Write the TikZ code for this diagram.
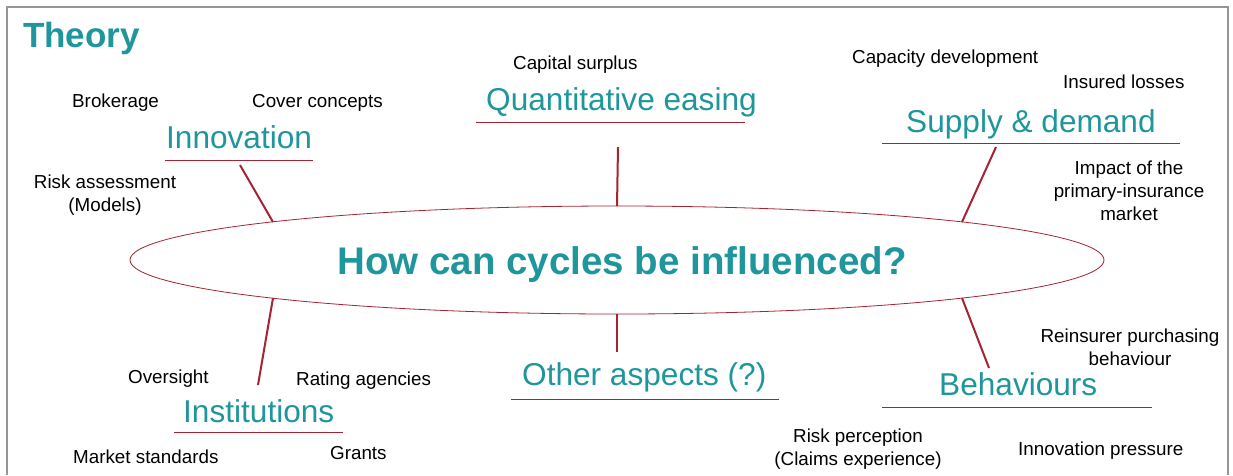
\documentclass[tikz,border=0pt]{standalone}
\usepackage{fontspec}
\setmainfont{Liberation Sans}
\usetikzlibrary{shapes.geometric,calc}

\definecolor{sigteal}{RGB}{30,150,155}
\definecolor{sigred}{RGB}{165,35,50}
\definecolor{framegrey}{RGB}{150,150,150}

\tikzset{
  topic/.style={anchor=base west, text=sigteal, font=\fontsize{31.6}{36}\selectfont, inner sep=0pt},
  item/.style={font=\fontsize{18.8}{23}\selectfont, inner sep=0pt, align=center},
  link/.style={draw=sigred, line width=2pt},
  rule/.style={draw=sigred, line width=0.9pt},
}

\begin{document}
\begin{tikzpicture}[x=1pt,y=-1pt]
\useasboundingbox (0,0) rectangle (1233,475);
\draw[framegrey, line width=1.2pt] (7,475) -- (7,7) -- (1228,7) -- (1228,475);

\node[anchor=base west, text=sigteal, font=\bfseries\fontsize{35}{40}\selectfont, inner sep=0pt] (title) at (23,47) {Theory};

% centre
\node[ellipse, draw=sigred, line width=0.8pt, minimum width=974pt, minimum height=108pt, inner sep=0pt, outer sep=0pt] (hub) at (617,260) {};
\node[anchor=base, text=sigteal, font=\bfseries\fontsize{38.5}{44}\selectfont, inner sep=0pt] (question) at (622,274) {How can cycles be influenced?};

% topics
\node[topic] (inno) at (166,148) {Innovation};
\node[topic] (qe) at (486,110) {Quantitative easing};
\node[topic] (supply) at (906,132) {Supply \& demand};
\node[topic] (inst) at (183,422) {Institutions};
\node[topic] (other) at (522,385) {Other aspects (?)};
\node[topic] (behav) at (939,395) {Behaviours};

\draw[rule] (165,160) -- (313,160);
\draw[rule] (476,122) -- (745,122);
\draw[rule] (882,143) -- (1180,143);
\draw[rule] (174,432) -- (343,432);
\draw[rule] (511,399) -- (779,399);
\draw[rule] (882,407) -- (1152,407);

\coordinate (innoFoot) at (240,165);
\coordinate (qeFoot) at (618,147);
\coordinate (supplyFoot) at (996,147);
\coordinate (instFoot) at (258,385);
\coordinate (otherFoot) at (617,352);
\coordinate (behavFoot) at (989,368);

\draw[link] (innoFoot) -- ($(hub.center)+(-344,-38)$);
\draw[link] (qeFoot) -- (hub.north);
\draw[link] (supplyFoot) -- ($(hub.center)+(345,-38)$);
\draw[link] (instFoot) -- ($(hub.center)+(-344,38)$);
\draw[link] (otherFoot) -- (hub.south);
\draw[link] (behavFoot) -- ($(hub.center)+(345,38)$);

% items
\node[item, anchor=base west] (capital) at (513,69) {Capital surplus};
\node[item, anchor=base west] (broker) at (72,107) {Brokerage};
\node[item, anchor=base west] (cover) at (252,107) {Cover concepts};
\node[item] (riskass) at (105,195) {Risk assessment\\(Models)};
\node[item, anchor=base west] (capacity) at (852,63) {Capacity development};
\node[item, anchor=base west] (losses) at (1063,88) {Insured losses};
\node[item] (impact) at (1129,191) {Impact of the\\primary-insurance\\market};
\node[item] (reins) at (1130,347.5) {Reinsurer purchasing\\behaviour};
\node[item, anchor=base west] (oversight) at (128,383) {Oversight};
\node[item, anchor=base west] (rating) at (296,385) {Rating agencies};
\node[item, anchor=base west] (market) at (73,463) {Market standards};
\node[item, anchor=base west] (grants) at (330,459) {Grants};
\node[item] (riskper) at (858,449.5) {Risk perception\\(Claims experience)};
\node[item, anchor=base west] (pressure) at (1018,455) {Innovation pressure};
\end{tikzpicture}
\end{document}
